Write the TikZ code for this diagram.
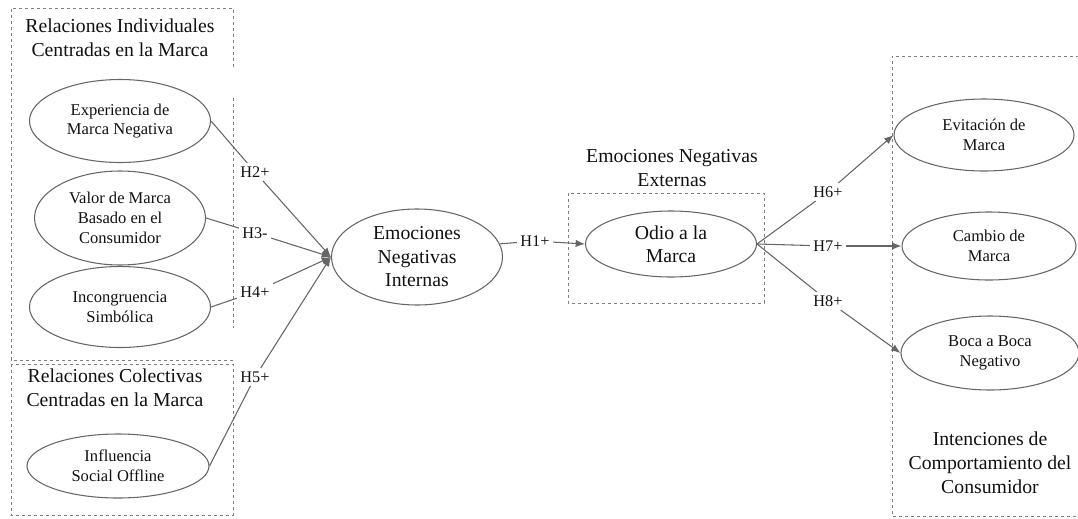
\documentclass[tikz,border=0pt]{standalone}
\usepackage{fontspec}
\setmainfont{Liberation Serif}
\usetikzlibrary{shapes.geometric,arrows.meta}
\definecolor{ln}{HTML}{666666}
\definecolor{bx}{HTML}{7F7F7F}
\definecolor{tx}{HTML}{111111}
\begin{document}
\begin{tikzpicture}[x=0.75pt,y=-0.75pt,
  ell/.style={draw=ln,line width=0.8pt,ellipse,inner sep=0pt,align=center,
    font=\fontsize{12.4}{14.8}\selectfont,text=tx},
  bigell/.style={ell,font=\fontsize{14.8}{17.6}\selectfont},
  ttl/.style={align=center,font=\fontsize{14.8}{18}\selectfont,inner sep=0pt,text=tx},
  hyp/.style={font=\fontsize{12.2}{14}\selectfont,inner sep=2.5pt,text=tx},
  dbox/.style={draw=bx,dash pattern=on 2.5pt off 2pt,line width=0.75pt},
  conn/.style={draw=ln,line width=0.8pt},
  arr/.style={conn,-{Latex[length=7pt,width=5.5pt]}}]

\useasboundingbox (0,0) rectangle (1078,518);

% dashed group boxes
\draw[dbox] (233,67) -- (233,8) -- (11,8) -- (11,360) -- (233,360);
\draw[dbox] (233,98) -- (233,328);
\draw[dbox] (11,364) rectangle (233,515);
\draw[dbox] (568,193) rectangle (764,303);
\draw[dbox] (1085,56) -- (892,56) -- (892,516) -- (1085,516);

% titles
\node[ttl] (t1) at (120,38) {Relaciones Individuales\\Centradas en la Marca};
\node[ttl] (t2) at (115,388) {Relaciones Colectivas\\Centradas en la Marca};
\node[ttl] (t3) at (672,168) {Emociones Negativas\\Externas};
\node[ttl] (t4) at (990,463) {Intenciones de\\Comportamiento del\\Consumidor};

% ellipses
\node[ell,minimum width=135.75pt,minimum height=62.25pt] (e1) at (120,121) {Experiencia de\\Marca Negativa};
\node[ell,minimum width=128.25pt,minimum height=70.5pt] (e2) at (120,218) {Valor de Marca\\Basado en el\\Consumidor};
\node[ell,minimum width=135.75pt,minimum height=60.75pt] (e3) at (120,307) {Incongruencia\\Simb\'olica};
\node[ell,minimum width=136.5pt,minimum height=48pt] (e4) at (118,466) {Influencia\\Social Offline};
\node[bigell,minimum width=128.25pt,minimum height=72pt] (eni) at (417,257) {Emociones\\Negativas\\Internas};
\node[bigell,minimum width=128.25pt,minimum height=49.5pt] (odio) at (671,244) {Odio a la\\Marca};
\node[ell,minimum width=135pt,minimum height=54pt] (evit) at (984,135) {Evitaci\'on de\\Marca};
\node[ell,minimum width=130.5pt,minimum height=51pt] (camb) at (989,246) {Cambio de\\Marca};
\node[ell,minimum width=133.5pt,minimum height=55.5pt] (boca) at (990,353) {Boca a Boca\\Negativo};

% hypothesis labels
\node[hyp] (h2) at (255,172) {H2+};
\node[hyp] (h3) at (255,233) {H3-};
\node[hyp] (h4) at (255,292) {H4+};
\node[hyp] (h5) at (255,377) {H5+};
\node[hyp] (h1) at (535,241) {H1+};
\node[hyp] (h6) at (828,192) {H6+};
\node[hyp] (h7) at (828,246) {H7+};
\node[hyp] (h8) at (828,301) {H8+};

% connectors
\draw[conn] (e1.east) -- (h2);
\draw[arr] (h2) -- (eni.west);
\draw[conn] (e2.east) -- (h3);
\draw[arr] (h3) -- (eni.west);
\draw[conn] (e3.east) -- (h4);
\draw[arr] (h4) -- (eni.west);
\draw[conn] (e4.east) -- (h5);
\draw[arr] (h5) -- (eni.west);
\draw[conn] (eni.9) -- (h1);
\draw[arr] (h1) -- (odio.west);
\draw[conn] (odio.east) -- (h6);
\draw[arr] (h6) -- (evit.west);
\draw[conn] (odio.east) -- (h7);
\draw[arr] (h7) -- (camb.west);
\draw[conn] (odio.east) -- (h8);
\draw[arr] (h8) -- (boca.west);
\end{tikzpicture}
\end{document}
